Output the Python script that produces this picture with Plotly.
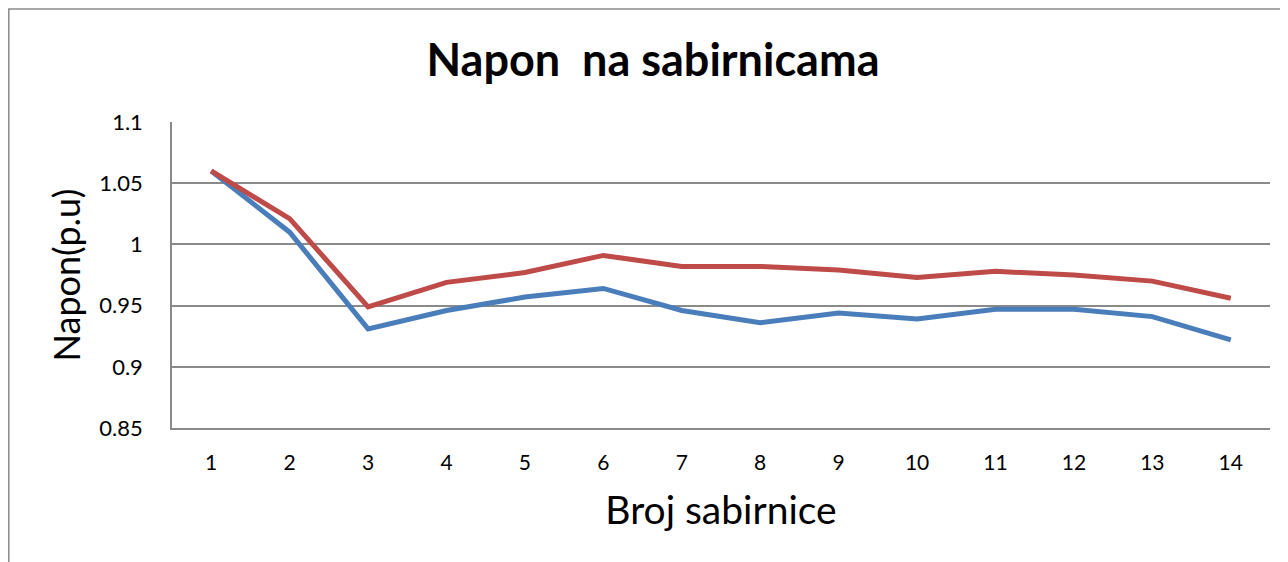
import plotly.graph_objects as go

buses = list(range(1, 15))
napon_plavi = [1.060, 1.010, 0.931, 0.946, 0.957, 0.964, 0.946, 0.936, 0.944, 0.939, 0.947, 0.947, 0.941, 0.922]
napon_crveni = [1.060, 1.021, 0.949, 0.969, 0.977, 0.991, 0.982, 0.982, 0.979, 0.973, 0.978, 0.975, 0.970, 0.956]
y_ticks = [0.85, 0.9, 0.95, 1, 1.05, 1.1]
y_tick_labels = ["0.85", "0.9", "0.95", "1", "1.05", "1.1"]

OFF = 8  # page body margin
W, H = 1288, 562
L, R, T, B = 172 - OFF, 1270 - OFF, 122 - OFF, 428 - OFF

fig = go.Figure()
fig.add_trace(go.Scatter(x=buses, y=napon_plavi, mode="lines",
                         line=dict(color="#4A7EBB", width=5), showlegend=False))
fig.add_trace(go.Scatter(x=buses, y=napon_crveni, mode="lines",
                         line=dict(color="#BE4B48", width=5), showlegend=False))

font = "Lato, Open Sans, DejaVu Sans, sans-serif"
fig.update_layout(
    width=W, height=H,
    margin=dict(l=L, r=W - R, t=T, b=H - B, pad=0),
    paper_bgcolor="white", plot_bgcolor="white",
    font=dict(family=font, color="black"),
    title=dict(text="<b>Napon  na sabirnicama</b>", x=(653 - OFF) / W, xanchor="center",
               y=1 - (60 - OFF) / H, yanchor="middle", font=dict(size=45, family=font, color="black")),
    xaxis=dict(range=[0.5, 14.5], tickmode="array", tickvals=buses,
               ticktext=[str(b) for b in buses], showgrid=False, zeroline=False,
               showline=True, linecolor="#8a8a8a", linewidth=1.5,
               tickfont=dict(size=21), ticks="", ticklabelstandoff=15,
               title=dict(text="Broj sabirnice", font=dict(size=39), standoff=24)),
    yaxis=dict(range=[0.85, 1.1], tickmode="array", tickvals=y_ticks, ticktext=y_tick_labels,
               showgrid=True, gridcolor="#8a8a8a", gridwidth=1.5, zeroline=False,
               showline=True, linecolor="#8a8a8a", linewidth=1.5,
               tickfont=dict(size=22), ticks="", ticklabelstandoff=23,
               title=dict(text="Napon(p.u)", font=dict(size=36), standoff=8)),
)

fig.add_shape(type="rect", xref="paper", yref="paper",
              x0=(0.8 - L) / (R - L), x1=(1300 - L) / (R - L),
              y0=(B - 600) / (B - T), y1=(B - (9 - OFF)) / (B - T),
              line=dict(color="#8a8a8a", width=1.5), fillcolor="rgba(0,0,0,0)", layer="below")

fig.write_html("out.html")
